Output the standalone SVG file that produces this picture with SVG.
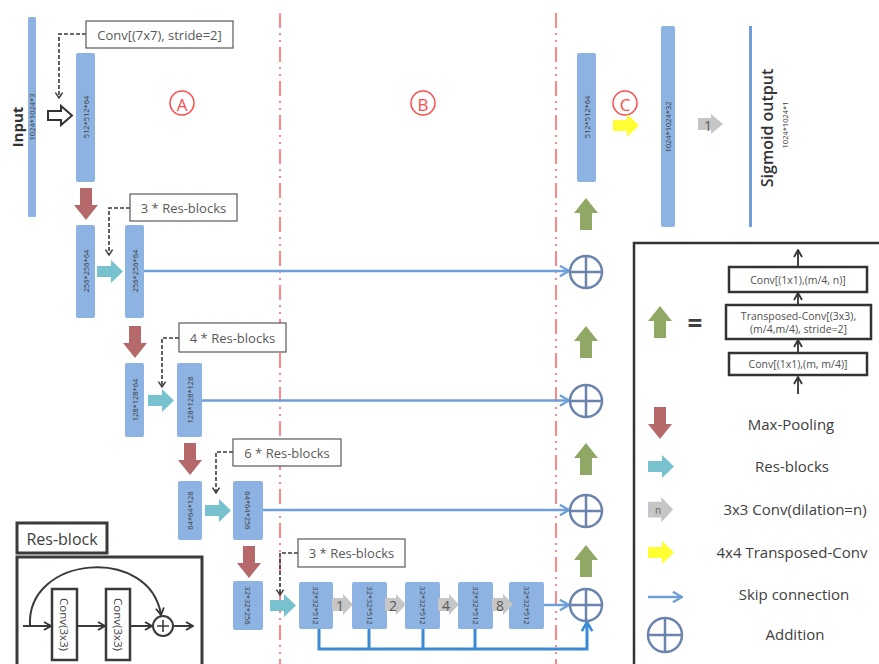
<svg xmlns="http://www.w3.org/2000/svg" width="879" height="664" viewBox="0 0 879 664">
<defs>
<style>
text{font-family:"Open Sans","Liberation Sans",sans-serif}
.bar{fill:#8db3e2}
.bt{font-size:7.5px;fill:#3c3c3c;text-anchor:middle;dominant-baseline:central}
.note{fill:#fff;stroke:#595959;stroke-width:1.2}
.nt{font-size:13px;fill:#595959;text-anchor:middle;dominant-baseline:central}
.dash{fill:none;stroke:#3a3a3a;stroke-width:1.6;stroke-dasharray:4 2}
.mp{fill:#b5696a}
.rb{fill:#78c2cf}
.gu{fill:#8fa865}
.yl{fill:#ffff33}
.gr{fill:#c6c6c6}
.gn{font-size:14px;fill:#595959;text-anchor:middle;dominant-baseline:central}
.skip{fill:none;stroke:#6f9fd9;stroke-width:2.5}
.sb{fill:none;stroke:#3a8ad4;stroke-width:3}
.add circle,.add path{fill:none;stroke:#6a84ad;stroke-width:2.5}
.sep{stroke:#ff6a6a;stroke-width:1.6;stroke-dasharray:15 5 2 5 2 5}
.circ{fill:none;stroke:#ff4a4a;stroke-width:1.5}
.ct{font-size:17px;fill:#ff4a4a;text-anchor:middle;dominant-baseline:central}
.lg{font-size:15px;fill:#404040;text-anchor:middle;dominant-baseline:central}
.lb{fill:#fff;stroke:#333;stroke-width:2.5}
.lbt{font-size:10.5px;fill:#505050;text-anchor:middle;dominant-baseline:central}
.ln{fill:none;stroke:#333;stroke-width:1.8}
.rbk{fill:#fff;stroke:#3a3a3a;stroke-width:3}
.rbc{fill:#fff;stroke:#3a3a3a;stroke-width:2.5}
.rbl{fill:none;stroke:#3a3a3a;stroke-width:2}
</style>
<path id="dn" d="M6,0H18V17H24L12,32L0,17H6Z"/>
<path id="upa" d="M12,0L24,15H18V32H6V15H0Z"/>
<path id="ra" d="M0,6H14V0L26,11.5L14,23V17H0Z"/>
<path id="ga" d="M0,4H11V0L21,10.5L11,21V17H0Z"/>
<marker id="vd" viewBox="0 0 10 10" refX="5" refY="9" markerWidth="9" markerHeight="9" orient="0" markerUnits="userSpaceOnUse"><path d="M1,3L5,9L9,3" fill="none" stroke="#3a3a3a" stroke-width="1.6"/></marker>
<marker id="vs" viewBox="0 0 10 10" refX="9" refY="5" markerWidth="13" markerHeight="13" orient="auto" markerUnits="userSpaceOnUse"><path d="M2,1L9,5L2,9" fill="none" stroke="#6f9fd9" stroke-width="1.8"/></marker>
<marker id="vb" viewBox="0 0 10 10" refX="9" refY="5" markerWidth="13" markerHeight="13" orient="auto" markerUnits="userSpaceOnUse"><path d="M2,1L9,5L2,9" fill="none" stroke="#3a8ad4" stroke-width="2"/></marker>
<marker id="vl" viewBox="0 0 10 10" refX="9" refY="5" markerWidth="10" markerHeight="10" orient="auto" markerUnits="userSpaceOnUse"><path d="M2,1L9,5L2,9" fill="none" stroke="#333" stroke-width="1.8"/></marker>
</defs>
<rect width="879" height="664" fill="#fff"/>

<!-- separators -->
<g id="separators">
<line class="sep" x1="280" y1="13" x2="280" y2="664"/>
<line class="sep" x1="556" y1="13" x2="556" y2="664"/>
<g id="label-A"><circle class="circ" cx="182" cy="103" r="12"/><text class="ct" x="182" y="104">A</text></g>
<g id="label-B"><circle class="circ" cx="423" cy="103" r="12"/><text class="ct" x="423" y="104">B</text></g>
<g id="label-C"><circle class="circ" cx="625" cy="103" r="12"/><text class="ct" x="625" y="104">C</text></g>
</g>

<!-- connectors -->
<g id="connectors">
<path class="dash" d="M86,34H59V98" marker-end="url(#vd)"/>
<path class="dash" d="M130,208H109V255" marker-end="url(#vd)"/>
<path class="dash" d="M179,338H162V387" marker-end="url(#vd)"/>
<path class="dash" d="M233,452H216V493" marker-end="url(#vd)"/>
<path class="dash" d="M298,553H280V595" marker-end="url(#vd)"/>
<path class="skip" d="M144,271H569" marker-end="url(#vs)"/>
<path class="skip" d="M202,400.5H569" marker-end="url(#vs)"/>
<path class="skip" d="M263,510H569" marker-end="url(#vs)"/>
<path class="skip" d="M544,605H569" marker-end="url(#vs)"/>
<path class="sb" d="M369,629V649M423,629V649M475,629V649"/>
<path class="sb" d="M319,629V649H587V622" marker-end="url(#vb)"/>
<polygon points="48,111 61,111 61,106 72,115.5 61,125 61,120 48,120" fill="#fff" stroke="#333" stroke-width="2"/>
<use href="#dn" class="mp" transform="translate(74,188)"/>
<use href="#dn" class="mp" transform="translate(123,326)"/>
<use href="#dn" class="mp" transform="translate(178,443)"/>
<use href="#dn" class="mp" transform="translate(237,546)"/>
<use href="#ra" class="rb" transform="translate(97,260)"/>
<use href="#ra" class="rb" transform="translate(148,389)"/>
<use href="#ra" class="rb" transform="translate(205,499)"/>
<use href="#ra" class="rb" transform="translate(270,594)"/>
<use href="#upa" class="gu" transform="translate(574,198)"/>
<use href="#upa" class="gu" transform="translate(574,326)"/>
<use href="#upa" class="gu" transform="translate(574,443)"/>
<use href="#upa" class="gu" transform="translate(574,545)"/>
<use href="#ra" class="yl" transform="translate(613,114)"/>
</g>

<!-- nodes -->
<g id="input"><rect class="bar" x="28" y="17" width="8" height="200" rx="1.5"/><text class="bt" transform="translate(32,117) rotate(-90)" font-size="6.5">1024*1024*3</text>
<text transform="translate(17,127) rotate(-90)" font-size="15" font-weight="bold" fill="#333" text-anchor="middle" dominant-baseline="central">Input</text></g>
<g id="note-conv7"><rect class="note" x="86" y="21" width="147" height="27"/><text class="nt" x="159.5" y="34.5">Conv[(7x7), stride=2]</text></g>
<g id="b512a"><rect class="bar" x="76" y="53" width="19" height="129" rx="2"/><text class="bt" transform="translate(85.5,117) rotate(-90)">512*512*64</text></g>

<g id="note-res3a"><rect class="note" x="130" y="194" width="107" height="27"/><text class="nt" x="183.5" y="207.5">3 * Res-blocks</text></g>
<g id="b256a"><rect class="bar" x="76" y="225" width="19" height="93" rx="2"/><text class="bt" transform="translate(85.5,271) rotate(-90)">256*256*64</text></g>
<g id="b256b"><rect class="bar" x="125" y="225" width="19" height="93" rx="2"/><text class="bt" transform="translate(134.5,271) rotate(-90)">256*256*64</text></g>

<g id="note-res4"><rect class="note" x="179" y="323" width="107" height="29"/><text class="nt" x="232.5" y="337.5">4 * Res-blocks</text></g>
<g id="b128a"><rect class="bar" x="125" y="363" width="19" height="74" rx="2"/><text class="bt" transform="translate(134.5,400) rotate(-90)">128*128*64</text></g>
<g id="b128b"><rect class="bar" x="177" y="363" width="25" height="74" rx="2"/><text class="bt" transform="translate(189.5,400) rotate(-90)">128*128*128</text></g>

<g id="note-res6"><rect class="note" x="233" y="439" width="108" height="27"/><text class="nt" x="287" y="452.5">6 * Res-blocks</text></g>
<g id="b64a"><rect class="bar" x="178" y="481" width="24" height="59" rx="2"/><text class="bt" transform="translate(190,510.5) rotate(-90)">64*64*128</text></g>
<g id="b64b"><rect class="bar" x="233" y="481" width="30" height="59" rx="2"/><text class="bt" transform="translate(248,510.5) rotate(90)">64*64*256</text></g>

<g id="note-res3b"><rect class="note" x="298" y="539" width="107" height="28"/><text class="nt" x="351.5" y="553">3 * Res-blocks</text></g>
<g id="b32a"><rect class="bar" x="233" y="581" width="30" height="49" rx="2"/><text class="bt" transform="translate(248,605.5) rotate(90)">32*32*256</text></g>
<g id="b32b"><rect class="bar" x="299" y="582" width="34" height="47" rx="2"/><text class="bt" transform="translate(316,605.5) rotate(90)">32*32*512</text></g>
<g id="b32c"><rect class="bar" x="352" y="582" width="35" height="47" rx="2"/><text class="bt" transform="translate(369.5,605.5) rotate(90)">32*32*512</text></g>
<g id="b32d"><rect class="bar" x="405" y="582" width="35" height="47" rx="2"/><text class="bt" transform="translate(422.5,605.5) rotate(90)">32*32*512</text></g>
<g id="b32e"><rect class="bar" x="458" y="582" width="35" height="47" rx="2"/><text class="bt" transform="translate(475.5,605.5) rotate(90)">32*32*512</text></g>
<g id="b32f"><rect class="bar" x="509" y="582" width="35" height="47" rx="2"/><text class="bt" transform="translate(526.5,605.5) rotate(90)">32*32*512</text></g>
<g id="dil1"><use href="#ga" class="gr" transform="translate(332,594)"/><text class="gn" x="340" y="605">1</text></g>
<g id="dil2"><use href="#ga" class="gr" transform="translate(385,594)"/><text class="gn" x="393" y="605">2</text></g>
<g id="dil4"><use href="#ga" class="gr" transform="translate(438,594)"/><text class="gn" x="446" y="605">4</text></g>
<g id="dil8"><use href="#ga" class="gr" transform="translate(492,594)"/><text class="gn" x="500" y="605">8</text></g>

<g id="add1" class="add" transform="translate(586,272)"><circle r="16"/><path d="M-16,0H16M0,-16V16"/></g>
<g id="add2" class="add" transform="translate(586,401)"><circle r="16"/><path d="M-16,0H16M0,-16V16"/></g>
<g id="add3" class="add" transform="translate(586,511)"><circle r="16"/><path d="M-16,0H16M0,-16V16"/></g>
<g id="add4" class="add" transform="translate(586,605)"><circle r="16"/><path d="M-16,0H16M0,-16V16"/></g>

<g id="b512b"><rect class="bar" x="577" y="53" width="19" height="129" rx="2"/><text class="bt" transform="translate(586.5,117) rotate(-90)">512*512*64</text></g>
<g id="b1024"><rect class="bar" x="661" y="26" width="14" height="201" rx="2"/><text class="bt" transform="translate(668,127) rotate(-90)" font-size="8.5">1024*1024*32</text></g>
<g id="conv1"><path class="gr" d="M698,118H711V114L723,124L711,134V130H698Z"/><text class="gn" x="708" y="125" font-size="13">1</text></g>
<g id="output"><rect x="749" y="26" width="3" height="201" fill="#6f9fd9"/>
<text transform="translate(767,128) rotate(-90)" font-size="16" font-weight="600" fill="#333" text-anchor="middle" dominant-baseline="central">Sigmoid output</text>
<text class="bt" transform="translate(785,125) rotate(-90)">1024*1024*1</text></g>

<!-- Res-block inset -->
<g id="resblock">
<rect class="rbk" x="17" y="557" width="185" height="120"/>
<rect class="rbk" x="17" y="523" width="90" height="30"/>
<text x="62" y="538.5" font-size="16" fill="#404040" text-anchor="middle" dominant-baseline="central">Res-block</text>
<rect class="rbc" x="52" y="589" width="25" height="71"/>
<rect class="rbc" x="106" y="589" width="24" height="71"/>
<text transform="translate(64.5,624.5) rotate(90)" font-size="11.5" fill="#404040" text-anchor="middle" dominant-baseline="central">Conv(3x3)</text>
<text transform="translate(118,624.5) rotate(90)" font-size="11.5" fill="#404040" text-anchor="middle" dominant-baseline="central">Conv(3x3)</text>
<path class="rbl" d="M23,626H51" marker-end="url(#vl)"/>
<path class="rbl" d="M77,626H105" marker-end="url(#vl)"/>
<path class="rbl" d="M130,626H152" marker-end="url(#vl)"/>
<path class="rbl" d="M174,626H193" marker-end="url(#vl)"/>
<path class="rbl" d="M30,626C26,555 150,545 161,615" marker-end="url(#vl)"/>
<circle cx="163" cy="626" r="10" fill="#fff" stroke="#3a3a3a" stroke-width="2"/>
<path d="M157,626H169M163,620V632" stroke="#3a3a3a" stroke-width="1.6"/>
</g>

<!-- Legend -->
<g id="legend">
<rect x="634" y="243" width="260" height="440" fill="none" stroke="#333" stroke-width="2.5"/>
<rect class="lb" x="729" y="267" width="138" height="25"/>
<text class="lbt" x="798" y="279.5">Conv[(1x1),(m/4, n)]</text>
<rect class="lb" x="726" y="305" width="145" height="34"/>
<text class="lbt" x="798.5" y="315.5">Transposed-Conv[(3x3),</text>
<text class="lbt" x="798.5" y="329">(m/4,m/4), stride=2]</text>
<rect class="lb" x="729" y="353" width="138" height="22"/>
<text class="lbt" x="798" y="364">Conv[(1x1),(m, m/4)]</text>
<path class="ln" d="M798,394V377" marker-end="url(#vl)"/>
<path class="ln" d="M798,353V340" marker-end="url(#vl)"/>
<path class="ln" d="M798,305V293" marker-end="url(#vl)"/>
<path class="ln" d="M798,267V250" marker-end="url(#vl)"/>
<use href="#upa" class="gu" transform="translate(648,306)"/>
<text x="695" y="323" font-size="26" font-weight="bold" fill="#404040" text-anchor="middle" dominant-baseline="central">=</text>
<use href="#dn" class="mp" transform="translate(648,407)"/>
<text class="lg" x="791" y="424">Max-Pooling</text>
<use href="#ra" class="rb" transform="translate(648,455)"/>
<text class="lg" x="792" y="466">Res-blocks</text>
<use href="#ga" class="gr" transform="translate(648,497) scale(1.2)"/>
<text x="658" y="510" font-size="10" fill="#666" text-anchor="middle" dominant-baseline="central">n</text>
<text class="lg" x="795" y="509">3x3 Conv(dilation=n)</text>
<use href="#ra" class="yl" transform="translate(648,541)"/>
<text class="lg" x="792" y="552">4x4 Transposed-Conv</text>
<path class="skip" d="M648,597H682" marker-end="url(#vs)"/>
<text class="lg" x="794" y="594">Skip connection</text>
<g class="add" transform="translate(665,635)"><circle r="17"/><path d="M-17,0H17M0,-17V17"/></g>
<text class="lg" x="795" y="634">Addition</text>
</g>
</svg>
